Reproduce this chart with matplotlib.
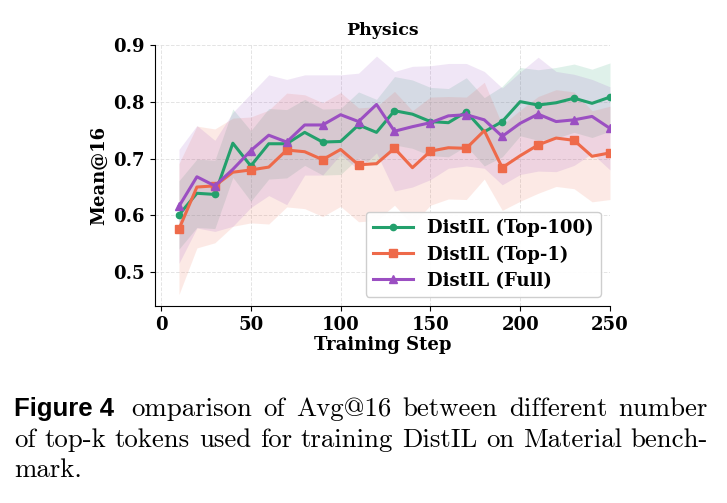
import matplotlib.pyplot as plt
import numpy as np

# training steps (x) and mean@16 per method, with the shaded spread (std)
STEPS = list(range(10, 260, 10))

TOP100 = [0.601, 0.639, 0.637, 0.727, 0.687, 0.726, 0.726, 0.746, 0.729, 0.730,
          0.759, 0.746, 0.784, 0.778, 0.765, 0.763, 0.782, 0.747, 0.765, 0.800,
          0.794, 0.798, 0.806, 0.797, 0.808]
TOP100_STD = [0.060, 0.060, 0.060, 0.060, 0.062, 0.062, 0.060, 0.058, 0.058, 0.058,
              0.058, 0.058, 0.060, 0.060, 0.060, 0.060, 0.060, 0.060, 0.062, 0.060,
              0.062, 0.062, 0.060, 0.060, 0.060]

TOP1 = [0.576, 0.650, 0.652, 0.676, 0.680, 0.685, 0.715, 0.712, 0.698, 0.716,
        0.689, 0.691, 0.718, 0.684, 0.713, 0.719, 0.718, 0.749, 0.684, 0.705,
        0.724, 0.736, 0.732, 0.704, 0.710]
TOP1_STD = [0.115, 0.107, 0.100, 0.095, 0.093, 0.100, 0.100, 0.100, 0.100, 0.100,
            0.100, 0.100, 0.100, 0.100, 0.095, 0.090, 0.090, 0.085, 0.075, 0.080,
            0.085, 0.085, 0.085, 0.080, 0.082]

FULL = [0.616, 0.668, 0.652, 0.681, 0.714, 0.741, 0.729, 0.759, 0.759, 0.777,
        0.765, 0.795, 0.748, 0.756, 0.763, 0.775, 0.777, 0.768, 0.739, 0.762,
        0.778, 0.765, 0.768, 0.774, 0.753]
FULL_STD = [0.100, 0.090, 0.080, 0.100, 0.100, 0.106, 0.110, 0.088, 0.088, 0.070,
            0.085, 0.085, 0.105, 0.106, 0.100, 0.092, 0.090, 0.085, 0.085, 0.090,
            0.100, 0.088, 0.080, 0.065, 0.073]

SERIES = [('DistIL (Top-100)', TOP100, TOP100_STD, '#23a06c', 'o', 4.5),
          ('DistIL (Top-1)', TOP1, TOP1_STD, '#ee6a4a', 's', 5.5),
          ('DistIL (Full)', FULL, FULL_STD, '#9b4fc2', '^', 5.5)]

CAPTION = ['omparison of Avg@16 between different number',
           'of top-k tokens used for training DistIL on Material bench-',
           'mark.']

plt.rcParams['font.family'] = 'DejaVu Serif'
plt.rcParams['font.weight'] = 'bold'

W, H = 727, 503
fig = plt.figure(figsize=(W / 100, H / 100), dpi=100)
ax = fig.add_axes([154.7 / W, 1 - 306 / H, (610 - 154.7) / W, (306 - 44.7) / H])

x = np.array(STEPS)
for label, mean, std, color, mk, ms in SERIES:
    m = np.array(mean)
    s = np.array(std)
    ax.fill_between(x, m - s, m + s, color=color, alpha=0.14, linewidth=0)
    ax.plot(x, m, color=color, lw=2.2, marker=mk, ms=ms, markevery=2, label=label)

ax.set_xlim(-3.5, 250)
ax.set_ylim(0.441, 0.9)
ax.set_xticks(range(0, 251, 50))
ax.set_yticks([0.5, 0.6, 0.7, 0.8, 0.9])
ax.tick_params(labelsize=13, length=3.5, width=0.8)
for t in ax.get_xticklabels() + ax.get_yticklabels():
    t.set_fontweight('bold')
ax.grid(True, ls='--', lw=0.7, color='#dddddd', alpha=0.8)
ax.set_axisbelow(True)
for side in ('top', 'right'):
    ax.spines[side].set_visible(False)
ax.set_title('Physics', fontsize=12.5, fontweight='bold', pad=7)
ax.set_xlabel('Training Step', fontsize=13, fontweight='bold', labelpad=2)
ax.set_ylabel('Mean@16', fontsize=13, fontweight='bold', labelpad=4)
leg = ax.legend(loc='lower right', prop={'weight': 'bold', 'size': 13},
                framealpha=0.95, edgecolor='#cccccc', handlelength=2.2,
                labelspacing=0.45)


def justified(words, y_px, x0, x1, first_gap=None):
    # place words so the line spans x0..x1 (pixels)
    r = fig.canvas.get_renderer()
    texts = []
    for w, fam, wt, sz in words:
        t = fig.text(0, 1 - y_px / H, w, fontsize=sz, family=fam, fontweight=wt,
                     va='baseline', ha='left')
        texts.append(t)
    widths = [t.get_window_extent(r).width for t in texts]
    n = len(texts) - 1
    total = x1 - x0 - sum(widths)
    if first_gap is not None:
        gaps = [first_gap] + [(total - first_gap) / (n - 1)] * (n - 1)
    else:
        gaps = [total / n] * n if n else []
    xp = x0
    for i, t in enumerate(texts):
        t.set_x(xp / W)
        xp += widths[i] + (gaps[i] if i < n else 0)


CAP_SIZE = 19.3
serif = ['cmr10', 'DejaVu Serif']
sans = ['Liberation Sans', 'DejaVu Sans']
line1 = [('Figure 4', sans, 'bold', 18.5)] + \
        [(w, serif, 'normal', CAP_SIZE) for w in CAPTION[0].split()]
justified(line1, 416, 14, 708, first_gap=17)
justified([(w, serif, 'normal', CAP_SIZE) for w in CAPTION[1].split()], 447, 14, 708)
fig.text(14 / W, 1 - 477 / H, CAPTION[2], fontsize=CAP_SIZE, family=serif,
         fontweight='normal', va='baseline')

fig.savefig('out.png', dpi=100)
